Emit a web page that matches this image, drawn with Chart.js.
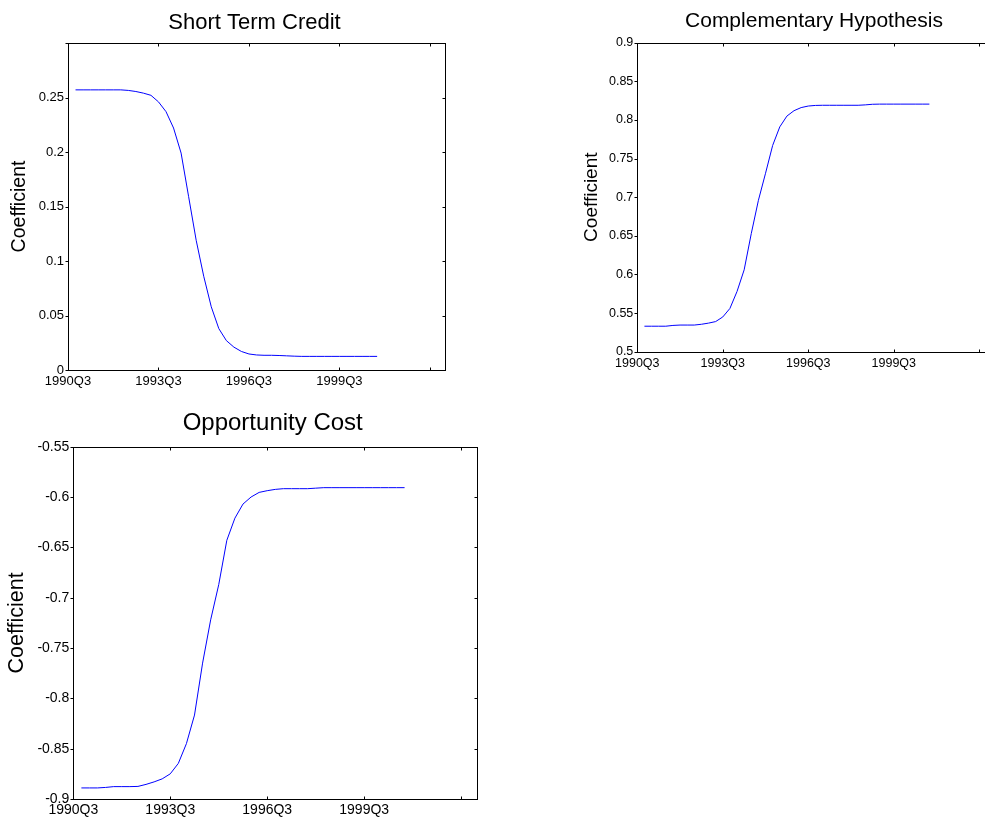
<!DOCTYPE html>
<html>
<head>
<meta charset="utf-8">
<script src="https://cdn.jsdelivr.net/npm/chart.js@4/dist/chart.umd.min.js"></script>
<style>
  html, body { margin: 0; padding: 0; background: #fff; overflow: hidden; }
  #page { width: 985px; height: 822px; position: relative; overflow: hidden; }
  canvas { position: absolute; }
</style>
</head>
<body>
<div id="page">
  <canvas id="chart0" width="470" height="395" style="left:0px;top:0px"></canvas>
  <canvas id="chart1" width="460" height="375" style="left:560px;top:0px"></canvas>
  <canvas id="chart2" width="500" height="422" style="left:0px;top:400px"></canvas>
</div>
<script>
// axis categories: 1990Q3 .. 2003Q1
const quarters = [
  '1990Q3', '1990Q4',
  '1991Q1', '1991Q2', '1991Q3', '1991Q4',
  '1992Q1', '1992Q2', '1992Q3', '1992Q4',
  '1993Q1', '1993Q2', '1993Q3', '1993Q4',
  '1994Q1', '1994Q2', '1994Q3', '1994Q4',
  '1995Q1', '1995Q2', '1995Q3', '1995Q4',
  '1996Q1', '1996Q2', '1996Q3', '1996Q4',
  '1997Q1', '1997Q2', '1997Q3', '1997Q4',
  '1998Q1', '1998Q2', '1998Q3', '1998Q4',
  '1999Q1', '1999Q2', '1999Q3', '1999Q4',
  '2000Q1', '2000Q2', '2000Q3', '2000Q4',
  '2001Q1', '2001Q2', '2001Q3', '2001Q4',
  '2002Q1', '2002Q2', '2002Q3', '2002Q4',
  '2003Q1'
];

// estimates run 1990Q4 .. 2000Q4
const seriesQuarters = quarters.slice(1, 42);

const xTickQuarters = ['1990Q3', '1993Q3', '1996Q3', '1999Q3', '2002Q3'];
const xTickLabels = ['1990Q3', '1993Q3', '1996Q3', '1999Q3', ''];

const shortTermCredit = [
  0.257, 0.257, 0.257, 0.257, 0.257, 0.257, 0.257, 0.2565, 0.2555, 0.254,
  0.252, 0.246, 0.237, 0.222, 0.199, 0.159, 0.119, 0.086, 0.058, 0.038,
  0.027, 0.021, 0.017, 0.0147, 0.0138, 0.0135, 0.0135, 0.0133, 0.013, 0.0127,
  0.0125, 0.0125, 0.0125, 0.0125, 0.0125, 0.0125, 0.0125, 0.0125, 0.0125, 0.0125,
  0.0125
];

const complementaryHypothesis = [
  0.533, 0.533, 0.533, 0.533, 0.534, 0.5345, 0.5345, 0.5345, 0.5355, 0.537,
  0.539, 0.545, 0.556, 0.578, 0.606, 0.653, 0.696, 0.731, 0.767, 0.791,
  0.805, 0.812, 0.816, 0.818, 0.8188, 0.819, 0.819, 0.819, 0.819, 0.819,
  0.819, 0.8195, 0.8203, 0.8205, 0.8205, 0.8205, 0.8205, 0.8205, 0.8205, 0.8205,
  0.8205
];

const opportunityCost = [
  -0.889, -0.889, -0.889, -0.8885, -0.8877, -0.8877, -0.8877, -0.8875, -0.8855, -0.883,
  -0.880, -0.875, -0.8646, -0.845, -0.8166, -0.765, -0.722, -0.687, -0.643, -0.621,
  -0.607, -0.600, -0.5954, -0.5937, -0.5924, -0.5917, -0.5917, -0.5917, -0.5917, -0.5912,
  -0.5907, -0.5907, -0.5907, -0.5907, -0.5907, -0.5907, -0.5907, -0.5907, -0.5907, -0.5907,
  -0.5907
];

const yTickLabels0 = ['0', '0.05', '0.1', '0.15', '0.2', '0.25', ''];
const yTickLabels1 = ['0.5', '0.55', '0.6', '0.65', '0.7', '0.75', '0.8', '0.85', '0.9'];
const yTickLabels2 = ['-0.9', '-0.85', '-0.8', '-0.75', '-0.7', '-0.65', '-0.6', '-0.55'];

const FONT = 'Liberation Sans, Arial, Helvetica, sans-serif';
Chart.defaults.font.family = FONT;
Chart.defaults.color = '#000';

// box with matlab style ticks
const framePlugin = {
  id: 'frame',
  afterLayout(chart, args, opts) {
    if (opts.titleX !== undefined && chart.titleBlock) {
      chart.titleBlock.left = opts.titleX - 220;
      chart.titleBlock.right = opts.titleX + 220;
    }
  },
  afterDatasetsDraw(chart) {
    const ctx = chart.ctx;
    const a = chart.chartArea;
    const x = chart.scales.x, y = chart.scales.y;
    const L = Math.round(a.left) + 0.5, R = Math.round(a.right) + 0.5;
    const T = Math.round(a.top) + 0.5, B = Math.round(a.bottom) + 0.5;
    ctx.save();
    ctx.strokeStyle = '#000';
    ctx.lineWidth = 1;
    ctx.strokeRect(L, T, R - L, B - T);
    ctx.beginPath();
    y.ticks.forEach(t => {
      const py = Math.round(y.getPixelForValue(t.value)) + 0.5;
      ctx.moveTo(L - 3, py); ctx.lineTo(L, py);
      ctx.moveTo(R, py); ctx.lineTo(R - 3, py);
    });
    x.ticks.forEach(t => {
      const px = Math.round(x.getPixelForValue(t.value)) + 0.5;
      ctx.moveTo(px, B); ctx.lineTo(px, B - 3);
      ctx.moveTo(px, T); ctx.lineTo(px, T + 3);
    });
    ctx.stroke();
    ctx.restore();
  }
};

function prepareTemplate(cfg) {
  return {
    type: 'line',
    data: {
      labels: quarters,
      datasets: [{
        data: cfg.values.map((v, i) => ({ x: seriesQuarters[i], y: v })),
        borderColor: '#0000ff',
        borderWidth: 1,
        pointRadius: 0,
        fill: false,
        tension: 0
      }]
    },
    options: {
      responsive: false,
      animation: false,
      devicePixelRatio: 1,
      layout: { padding: { left: 0, top: 0, right: cfg.padRight, bottom: 0 } },
      plugins: {
        legend: { display: false },
        tooltip: { enabled: false },
        title: {
          display: true,
          text: cfg.title,
          fullSize: false,
          color: '#000',
          font: { size: cfg.titleSize, weight: 'normal', lineHeight: 1.2 },
          padding: { top: cfg.titleTop, bottom: cfg.titleBottom }
        },
        frame: { titleX: cfg.titleX }
      },
      scales: {
        x: {
          type: 'category',
          grid: { display: false, drawTicks: false },
          border: { display: false },
          afterBuildTicks: s => {
            s.ticks = s.ticks.filter(t => xTickQuarters.includes(quarters[t.value]));
          },
          afterFit: s => { s.height = cfg.xHeight; },
          ticks: {
            autoSkip: false,
            maxRotation: 0,
            padding: cfg.xPad,
            color: '#000',
            font: { size: cfg.tickSize, lineHeight: 1.2 },
            callback: v => xTickLabels[xTickQuarters.indexOf(quarters[v])]
          }
        },
        y: {
          min: cfg.min,
          max: cfg.max,
          grid: { display: false, drawTicks: false },
          border: { display: false },
          afterFit: s => { s.width = cfg.yWidth; },
          ticks: {
            stepSize: 0.05,
            padding: 4,
            color: '#000',
            font: { size: cfg.tickSize },
            callback: (v, i) => cfg.yLabels[i]
          },
          title: {
            display: true,
            text: 'Coefficient',
            color: '#000',
            font: { size: cfg.labelSize, lineHeight: 1.2 },
            padding: { top: cfg.yTitleOffset, bottom: 0 }
          }
        }
      }
    },
    plugins: [framePlugin]
  };
}

const panels = [
  { id: 'chart0', title: 'Short Term Credit', values: shortTermCredit, yLabels: yTickLabels0,
    min: 0, max: 0.3, padRight: 25, yWidth: 68, xHeight: 25,
    titleSize: 22, tickSize: 13, labelSize: 19.5,
    titleTop: 10.1, titleBottom: 6.5, titleX: 254.5, yTitleOffset: 8.3, xPad: 3.2 },
  { id: 'chart1', title: 'Complementary Hypothesis', values: complementaryHypothesis, yLabels: yTickLabels1,
    min: 0.5, max: 0.9, padRight: 26.5, yWidth: 77.3, xHeight: 23.3,
    titleSize: 21, tickSize: 12.5, labelSize: 19,
    titleTop: 8.7, titleBottom: 8.8, titleX: 254, yTitleOffset: 20.6, xPad: 4.5 },
  { id: 'chart2', title: 'Opportunity Cost', values: opportunityCost, yLabels: yTickLabels2,
    min: -0.9, max: -0.55, padRight: 22.7, yWidth: 73.3, xHeight: 23,
    titleSize: 24, tickSize: 14, labelSize: 21.5,
    titleTop: 8.9, titleBottom: 9.0, titleX: 272.7, yTitleOffset: 3.8, xPad: 2.6 }
];

panels.forEach(p => {
  const ctx = document.getElementById(p.id).getContext('2d');
  new Chart(ctx, prepareTemplate(p));
});
</script>
</body>
</html>
